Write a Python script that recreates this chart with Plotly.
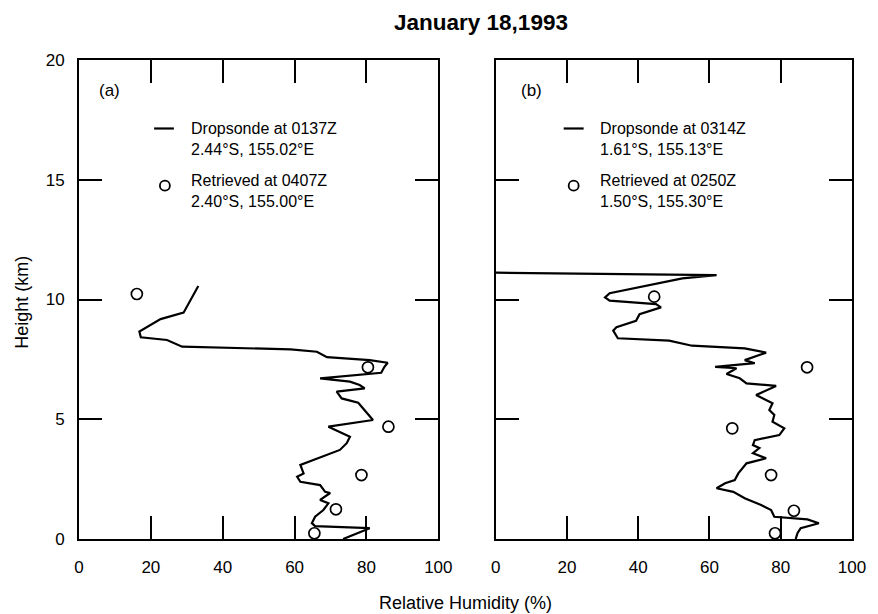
import plotly.graph_objects as go

# Panel (a) dropsonde profile
a_rh = [33.2, 29.1, 22.7, 16.8, 17.2, 24.5, 28.7, 58.9, 66.2, 69.0, 80.9, 85.9, 85.0, 84.1, 67.1, 75.4, 78.1,
        79.5, 71.7, 73.1, 77.7, 81.8, 69.4, 73.5, 75.4, 74.5, 72.6, 61.6, 62.5, 60.7, 61.6, 67.1, 68.5, 69.9,
        67.1, 69.4, 68.0, 65.7, 64.8, 65.7, 80.9, 73.5]
a_h = [10.56, 9.45, 9.18, 8.66, 8.42, 8.31, 8.03, 7.92, 7.82, 7.59, 7.47, 7.36, 7.19, 6.94, 6.71, 6.57, 6.43,
       6.29, 6.15, 5.87, 5.69, 4.97, 4.69, 4.41, 4.27, 4.00, 3.72, 3.09, 2.74, 2.60, 2.39, 2.25, 1.97, 1.92,
       1.63, 1.49, 1.21, 0.93, 0.66, 0.54, 0.45, 0.0]
# Panel (a) retrieved
a_ret_rh = [16.1, 80.4, 86.1, 78.6, 71.5, 65.5]
a_ret_h = [10.23, 7.17, 4.69, 2.67, 1.24, 0.24]

# Panel (b) dropsonde profile
b_rh = [0.0, 62.0, 52.4, 32.0, 30.7, 32.0, 45.0, 46.4, 40.4, 39.4, 33.9, 33.0, 34.3, 48.7, 55.1, 69.9, 75.9,
        69.9, 72.7, 61.6, 67.6, 64.8, 68.5, 70.4, 78.7, 73.1, 77.7, 76.8, 78.2, 77.7, 81.0, 79.6, 72.7, 72.2,
        74.0, 72.2, 75.9, 70.4, 68.1, 67.1, 64.4, 62.0, 66.7, 69.9, 74.5, 77.3, 78.2, 87.5, 90.7, 85.6, 84.7, 84.2]
b_h = [11.12, 11.02, 10.88, 10.26, 10.09, 9.95, 9.81, 9.67, 9.39, 9.11, 8.84, 8.70, 8.38, 8.28, 8.07, 7.96, 7.78,
       7.47, 7.34, 7.19, 7.13, 6.89, 6.71, 6.50, 6.39, 6.01, 5.67, 5.39, 5.18, 4.90, 4.62, 4.34, 4.13, 3.92,
       3.80, 3.58, 3.37, 3.16, 2.74, 2.46, 2.33, 2.12, 1.97, 1.70, 1.42, 1.21, 0.93, 0.82, 0.66, 0.45, 0.24, 0.0]
# Panel (b) retrieved
b_ret_rh = [44.5, 87.4, 66.4, 77.3, 83.7, 78.4]
b_ret_h = [10.12, 7.17, 4.62, 2.67, 1.18, 0.24]

x_ticks = [0, 20, 40, 60, 80, 100]
y_ticks = [0, 5, 10, 15, 20]

FONT = "Liberation Sans, Arial, sans-serif"

fig = go.Figure()
fig.add_trace(go.Scatter(x=a_rh, y=a_h, mode="lines", line=dict(color="black", width=2.2),
                         xaxis="x", yaxis="y", showlegend=False))
fig.add_trace(go.Scatter(x=a_ret_rh, y=a_ret_h, mode="markers",
                         marker=dict(symbol="circle-open", size=11, color="black", line=dict(width=1.7)),
                         xaxis="x", yaxis="y", showlegend=False))
fig.add_trace(go.Scatter(x=b_rh, y=b_h, mode="lines", line=dict(color="black", width=2.2),
                         xaxis="x2", yaxis="y2", showlegend=False))
fig.add_trace(go.Scatter(x=b_ret_rh, y=b_ret_h, mode="markers",
                         marker=dict(symbol="circle-open", size=11, color="black", line=dict(width=1.7)),
                         xaxis="x2", yaxis="y2", showlegend=False))

axis_common = dict(showgrid=False, zeroline=False, showline=True, linecolor="black", linewidth=2,
                   mirror="ticks", ticks="inside", ticklen=23, tickwidth=2, tickcolor="black",
                   tickfont=dict(family=FONT, size=17, color="black"))

W, H = 878, 614
L, R, T, B = 79, 16, 60, 75
pw = W - L - R
ph = H - T - B
dom_a = [0, (443 - L) / pw]
dom_b = [(501 - L) / pw, 1]

fig.update_layout(
    width=W, height=H,
    margin=dict(l=L, r=R, t=T, b=B),
    paper_bgcolor="white", plot_bgcolor="white",
    font=dict(family=FONT, color="black"),
    xaxis=dict(domain=dom_a, range=[0, 100], tickvals=x_ticks, anchor="y", ticklabelstandoff=12, **axis_common),
    yaxis=dict(domain=[0, 1], range=[0, 20], tickvals=y_ticks, anchor="x", ticklabelstandoff=9, **axis_common),
    xaxis2=dict(domain=dom_b, range=[0, 100], tickvals=x_ticks, anchor="y2", ticklabelstandoff=12, **axis_common),
    yaxis2=dict(domain=[0, 1], range=[0, 20], tickvals=y_ticks, anchor="x2", showticklabels=False,
                **axis_common),
    title=dict(text="<b>January 18,1993</b>", x=481 / W, xanchor="center", y=1 - 22 / H, yanchor="middle",
               font=dict(family=FONT, size=22.5, color="black")),
)

# Axis titles
fig.add_annotation(text="Relative Humidity (%)", xref="paper", yref="paper", x=(470 - L) / pw,
                   y=-(603 - (H - B)) / ph, showarrow=False, yanchor="middle", xanchor="center",
                   font=dict(family=FONT, size=18, color="black"))
fig.add_annotation(text="Height (km)", xref="paper", yref="paper", x=-(L - 21) / pw,
                   y=(H - B - 302) / ph, showarrow=False, textangle=-90, xanchor="center", yanchor="middle",
                   font=dict(family=FONT, size=18, color="black"))

# Panel labels and legend entries (positions in axis-domain units)
panels = [
    dict(xa="x", ya="y", lab="(a)", labx=0.049, linex=(0.209, 0.264), circx=0.239, textx=0.305,
         blocks=["Dropsonde at 0137Z<br>2.44°S, 155.02°E", "Retrieved at 0407Z<br>2.40°S, 155.00°E"]),
    dict(xa="x2", ya="y2", lab="(b)", labx=0.066, linex=(0.191, 0.247), circx=0.219, textx=0.288,
         blocks=["Dropsonde at 0314Z<br>1.61°S, 155.13°E", "Retrieved at 0250Z<br>1.50°S, 155.30°E"]),
]
block_y = [0.836, 0.727]
for p in panels:
    xd, yd = p["xa"] + " domain", p["ya"] + " domain"
    fig.add_annotation(text=p["lab"], xref=xd, yref=yd, x=p["labx"], y=0.937, xanchor="left", yanchor="middle",
                       showarrow=False, font=dict(family=FONT, size=17, color="black"))
    for txt, yy in zip(p["blocks"], block_y):
        fig.add_annotation(text=txt, xref=xd, yref=yd, x=p["textx"], y=yy, xanchor="left", yanchor="middle",
                           align="left", showarrow=False, font=dict(family=FONT, size=16, color="black"))
    fig.add_shape(type="line", xref=xd, yref=yd, x0=p["linex"][0], x1=p["linex"][1], y0=0.857, y1=0.857,
                  line=dict(color="black", width=2.2))
    fig.add_shape(type="circle", xref=xd, yref=yd, xsizemode="pixel", ysizemode="pixel",
                  xanchor=p["circx"], yanchor=0.7376, x0=-5, x1=5, y0=-5, y1=5,
                  line=dict(color="black", width=1.8))

fig.write_html("out.html")
